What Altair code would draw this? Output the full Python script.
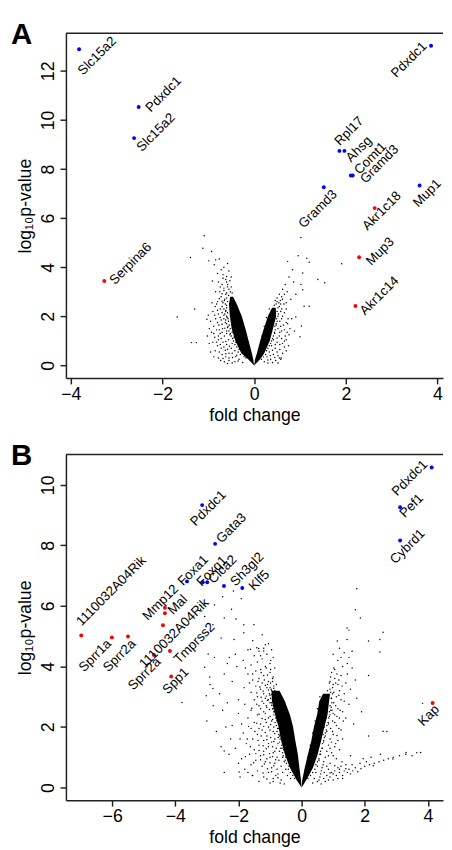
import altair as alt
import pandas as pd

FONT = "Liberation Sans"

# ---------------- Panel A data ----------------
A_genes = ["Slc15a2", "Pdxdc1", "Slc15a2", "Pdxdc1", "Rpl17", "Ahsg", "Comt1", "Gramd3",
           "Gramd3", "Mup1", "Akr1c18", "Serpina6", "Mup3", "Akr1c14"]
A_fc = [-3.82, -2.52, -2.62, 3.86, 1.86, 1.97, 2.11, 2.15, 1.52, 3.61, 2.63, -3.27, 2.29, 2.21]
A_lp = [12.88, 10.53, 9.26, 13.02, 8.74, 8.74, 7.74, 7.74, 7.26, 7.33, 6.41, 3.44, 4.41, 2.42]
A_dir = ["blue"] * 10 + ["red"] * 4

# dense core of the volcano (envelope of the solid black region)
A_core_left_lp = [0.0, 0.25, 0.5, 1.0, 1.5, 2.0, 2.5, 2.8]
A_core_left_out = [0.0, -0.13, -0.28, -0.41, -0.49, -0.53, -0.55, -0.52]
A_core_left_in = [0.0, -0.02, -0.05, -0.12, -0.19, -0.27, -0.38, -0.46]
A_core_right_lp = [0.0, 0.25, 0.5, 1.0, 1.5, 2.0, 2.35]
A_core_right_in = [0.0, 0.02, 0.06, 0.13, 0.21, 0.30, 0.39]
A_core_right_out = [0.0, 0.13, 0.22, 0.34, 0.41, 0.48, 0.47]

A_left_spread = [(-0.62, 3.5), (-0.70, 3.3), (-0.58, 3.2), (-0.66, 3.05), (-0.75, 3.0), (-0.60, 2.95),
                 (-0.72, 2.8), (-0.64, 2.7), (-0.80, 2.6), (-0.68, 2.55), (-0.60, 2.45), (-0.85, 2.4),
                 (-0.74, 2.3), (-0.62, 2.25), (-0.90, 2.2), (-0.78, 2.1), (-0.66, 2.05), (-0.59, 1.95),
                 (-0.84, 1.9), (-0.72, 1.85), (-0.95, 1.8), (-0.63, 1.75), (-0.77, 1.65), (-0.88, 1.6),
                 (-0.57, 1.6), (-0.69, 1.5), (-0.82, 1.45), (-0.60, 1.4), (-0.93, 1.35), (-0.74, 1.3),
                 (-0.53, 1.25), (-0.65, 1.2), (-0.86, 1.15), (-0.78, 1.05), (-0.56, 1.05), (-0.68, 0.95),
                 (-0.90, 0.95), (-0.48, 0.9), (-0.60, 0.85), (-0.80, 0.8), (-0.72, 0.7), (-0.50, 0.7),
                 (-0.63, 0.62), (-0.42, 0.6), (-0.85, 0.6), (-0.55, 0.5), (-0.70, 0.45), (-0.38, 0.42),
                 (-0.62, 0.35), (-0.47, 0.32), (-0.78, 0.3), (-0.33, 0.25), (-0.55, 0.2), (-0.42, 0.15),
                 (-0.25, 0.12), (-0.65, 0.15), (-0.50, 3.6), (-0.55, 3.85), (-0.68, 3.7), (-0.60, 3.4),
                 (-0.52, 3.0), (-0.78, 3.4), (-0.84, 3.0), (-0.92, 2.55), (-1.0, 2.05), (-0.98, 1.5),
                 (-1.02, 1.2), (-0.95, 0.55), (-0.88, 0.35), (-0.73, 0.2), (-0.98, 0.9), (-0.66, 4.0),
                 (-0.58, 4.15), (-0.72, 3.9), (-0.80, 3.75), (-0.45, 2.4), (-0.50, 2.1), (-0.45, 1.8),
                 (-0.68, 3.55), (-0.6, 3.62), (-0.74, 3.2), (-0.66, 3.15), (-0.7, 2.92), (-0.76, 2.72),
                 (-0.7, 2.62), (-0.82, 2.5), (-0.7, 2.4), (-0.8, 2.25), (-0.7, 2.15), (-0.86, 2.05),
                 (-0.74, 1.95), (-0.66, 1.9), (-0.8, 1.75), (-0.7, 1.68), (-0.64, 1.52), (-0.76, 1.45),
                 (-0.88, 1.3), (-0.7, 1.35), (-0.6, 1.3), (-0.78, 1.2), (-0.72, 1.1), (-0.62, 0.98),
                 (-0.82, 0.95), (-0.74, 0.85), (-0.54, 0.78), (-0.66, 0.75), (-0.58, 0.66), (-0.76, 0.55),
                 (-0.48, 0.5), (-0.62, 0.48), (-0.4, 0.36), (-0.55, 0.3), (-0.68, 0.28), (-0.35, 0.18),
                 (-0.48, 0.1), (-0.58, 0.08)]
A_left_edge = [(-0.18, 0.3), (-0.22, 0.35), (-0.3, 0.45), (-0.35, 0.55), (-0.33, 0.65), (-0.38, 0.75),
               (-0.42, 0.85), (-0.4, 0.95), (-0.45, 1.0), (-0.47, 1.1), (-0.44, 1.15), (-0.5, 1.2),
               (-0.52, 1.3), (-0.48, 1.35), (-0.55, 1.4), (-0.52, 1.5), (-0.58, 1.55), (-0.54, 1.65),
               (-0.6, 1.7), (-0.56, 1.8), (-0.62, 1.85), (-0.57, 1.9), (-0.6, 2.0), (-0.64, 2.1),
               (-0.58, 2.15), (-0.62, 2.2), (-0.66, 2.3), (-0.6, 2.35), (-0.63, 2.5), (-0.58, 2.6),
               (-0.65, 2.65), (-0.6, 2.75), (-0.56, 2.85), (-0.62, 2.9), (-0.55, 3.1), (-0.58, 3.3),
               (-0.5, 3.2), (-0.48, 2.95), (-0.53, 3.45), (-0.1, 0.45), (-0.15, 0.75), (-0.2, 1.05),
               (-0.26, 1.4), (-0.3, 1.7), (-0.35, 2.05), (-0.4, 2.35)]
A_right_spread = [(0.50, 2.6), (0.55, 2.4), (0.58, 2.2), (0.52, 2.0), (0.62, 2.0), (0.56, 1.8), (0.48, 1.7),
                  (0.64, 1.65), (0.52, 1.5), (0.60, 1.4), (0.45, 1.3), (0.55, 1.2), (0.68, 1.2), (0.42, 1.05),
                  (0.50, 0.95), (0.62, 0.9), (0.38, 0.8), (0.46, 0.7), (0.56, 0.65), (0.33, 0.55),
                  (0.42, 0.45), (0.52, 0.4), (0.28, 0.35), (0.36, 0.25), (0.47, 0.2), (0.22, 0.15),
                  (0.58, 0.25), (0.30, 0.1), (0.60, 2.8), (0.55, 2.9), (0.62, 3.1), (0.68, 3.3), (0.72, 3.0),
                  (0.65, 2.5), (0.70, 2.3), (0.74, 1.9), (0.78, 1.5), (0.66, 1.0), (0.75, 0.8), (0.80, 2.7),
                  (0.86, 3.4), (0.76, 3.6),
                  (0.58, 2.5), (0.62, 2.7), (0.66, 2.9), (0.6, 2.3), (0.66, 2.15), (0.6, 1.9), (0.7, 1.75),
                  (0.58, 1.6), (0.66, 1.45), (0.56, 1.35), (0.72, 1.35), (0.6, 1.1), (0.5, 1.12), (0.7, 1.05),
                  (0.56, 0.85), (0.46, 0.85), (0.66, 0.75), (0.4, 0.62), (0.5, 0.55), (0.62, 0.5), (0.35, 0.4),
                  (0.45, 0.32), (0.55, 0.3), (0.3, 0.22), (0.4, 0.12), (0.52, 0.1), (0.7, 0.6), (0.76, 1.25),
                  (0.82, 1.9), (0.7, 2.55)]
A_right_edge = [(0.16, 0.25), (0.2, 0.35), (0.25, 0.45), (0.27, 0.6), (0.3, 0.7), (0.33, 0.8), (0.36, 0.9),
                (0.38, 1.0), (0.4, 1.1), (0.42, 1.2), (0.44, 1.35), (0.46, 1.45), (0.45, 1.6), (0.48, 1.65),
                (0.5, 1.8), (0.49, 1.9), (0.53, 2.1), (0.5, 2.2), (0.52, 2.35), (0.48, 2.5), (0.54, 2.55),
                (0.5, 2.75), (0.46, 2.65), (0.57, 2.65), (0.44, 2.45), (0.08, 0.45), (0.12, 0.8),
                (0.17, 1.2), (0.22, 1.6), (0.27, 1.95), (0.33, 2.3)]
A_outliers = [(-1.09, 5.28), (-1.12, 4.77), (-1.39, 4.4), (-0.93, 4.64), (-0.99, 4.26), (-0.84, 4.3),
              (-0.76, 4.34), (-0.87, 4.1), (-0.91, 3.44), (-1.3, 2.3), (-1.68, 1.97), (-1.37, 0.93),
              (-1.26, 0.93), (-1.03, 1.88), (1.02, 5.21), (0.96, 4.47), (1.15, 4.37), (1.2, 4.2),
              (1.91, 4.14), (0.73, 4.24), (0.84, 3.9), (1.39, 3.5), (1.54, 3.37), (1.06, 3.77),
              (1.02, 3.3), (0.91, 2.9), (1.06, 3.08), (1.09, 2.41), (1.2, 2.41), (0.91, 1.97),
              (1.03, 1.61), (1.0, 1.17), (0.73, 1.7), (0.59, 0.3), (0.88, 1.4)]

# ---------------- Panel B data ----------------
B_genes = ["Pdxdc1", "Gata3", "Foxa1", "Foxq1", "Clca2", "Sh3gl2", "Klf5", "Pdxdc1", "Pef1", "Cybrd1",
           "1110032A04Rik", "Sprr1a", "Sprr2a", "Mmp12", "Mal", "1110032A04Rik", "Sprr2a", "Tmprss2",
           "Spp1", "Kap"]
B_fc = [-3.15, -2.74, -3.63, -3.13, -2.99, -2.46, -1.88, 4.12, 3.12, 3.12,
        -6.98, -6.01, -5.50, -4.33, -4.33, -4.39, -4.68, -4.17, -4.13, 4.15]
B_lp = [9.33, 8.05, 6.81, 6.78, 6.78, 6.66, 6.59, 10.57, 9.26, 8.16,
        5.02, 4.96, 4.99, 5.94, 5.76, 5.36, 4.38, 4.51, 3.67, 2.79]
B_dir = ["blue"] * 10 + ["red"] * 10

B_core_left_lp = [0.0, 0.25, 0.65, 1.1, 1.55, 2.0, 2.4, 2.85, 3.2]
B_core_left_out = [0.0, -0.16, -0.37, -0.53, -0.65, -0.73, -0.84, -0.94, -0.95]
B_core_left_in = [0.0, -0.02, -0.07, -0.12, -0.20, -0.27, -0.37, -0.53, -0.70]
B_core_right_lp = [0.0, 0.25, 0.65, 1.1, 1.55, 2.0, 2.4, 2.85, 3.1]
B_core_right_in = [0.0, 0.02, 0.10, 0.20, 0.31, 0.39, 0.49, 0.56, 0.68]
B_core_right_out = [0.0, 0.15, 0.36, 0.51, 0.62, 0.72, 0.82, 0.87, 0.90]

B_left_spread = [(-1.05, 4.75), (-1.2, 4.6), (-0.95, 4.55), (-1.35, 4.5), (-1.1, 4.4), (-1.5, 4.35), (-0.9, 4.3),
                 (-1.25, 4.25), (-1.4, 4.15), (-1.0, 4.1), (-1.6, 4.05), (-1.15, 4.0), (-0.85, 3.95),
                 (-1.3, 3.9), (-1.45, 3.85), (-1.0, 3.8), (-1.7, 3.75), (-1.2, 3.7), (-0.9, 3.65),
                 (-1.35, 3.6), (-1.55, 3.55), (-1.05, 3.5), (-1.25, 3.45), (-0.8, 3.4), (-1.45, 3.35),
                 (-1.1, 3.3), (-1.3, 3.25), (-0.95, 3.2), (-1.6, 3.15), (-1.2, 3.1), (-1.0, 3.05),
                 (-1.4, 3.0), (-0.85, 3.0), (-1.15, 2.95), (-1.5, 2.9), (-1.25, 2.85), (-1.0, 2.8),
                 (-1.8, 2.75), (-1.35, 2.7), (-1.1, 2.65), (-0.9, 2.6), (-1.6, 2.55), (-1.2, 2.5),
                 (-2.0, 2.45), (-1.4, 2.4), (-1.0, 2.35), (-1.7, 2.3), (-1.15, 2.25), (-0.95, 2.2),
                 (-1.5, 2.15), (-1.3, 2.1), (-2.2, 2.05), (-1.05, 2.0), (-1.6, 1.95), (-1.25, 1.9),
                 (-0.9, 1.85), (-1.85, 1.8), (-1.4, 1.75), (-1.1, 1.7), (-1.55, 1.6), (-1.2, 1.55),
                 (-0.95, 1.5), (-1.75, 1.45), (-1.35, 1.4), (-1.05, 1.35), (-2.1, 1.3), (-1.5, 1.25),
                 (-1.2, 1.2), (-0.9, 1.15), (-1.65, 1.1), (-1.3, 1.05), (-1.0, 1.0), (-1.9, 0.95),
                 (-1.45, 0.9), (-1.15, 0.85), (-0.85, 0.8), (-1.6, 0.75), (-1.25, 0.7), (-0.95, 0.65),
                 (-1.8, 0.6), (-1.4, 0.55), (-1.05, 0.5), (-0.75, 0.45), (-1.55, 0.4), (-1.2, 0.35),
                 (-0.9, 0.3), (-0.65, 0.25), (-1.35, 0.2), (-1.0, 0.15), (-0.55, 0.12),
                 (-0.8, 2.95), (-0.75, 2.7), (-0.82, 2.45), (-0.78, 2.2), (-0.72, 1.95), (-0.7, 1.7),
                 (-0.75, 1.45), (-0.62, 1.3), (-0.7, 1.2), (-0.6, 1.0), (-0.55, 0.85), (-0.65, 0.7),
                 (-0.5, 0.6), (-0.45, 0.4), (-0.35, 0.3), (-0.88, 2.0), (-0.85, 1.6), (-0.8, 1.3),
                 (-0.78, 1.0), (-0.72, 0.9), (-0.6, 0.5), (-1.0, 3.3), (-0.9, 3.1), (-1.05, 2.9),
                 (-2.9, 3.4), (-2.6, 3.1), (-2.8, 2.7), (-2.5, 2.55), (-2.35, 2.8), (-3.0, 2.2),
                 (-2.4, 2.0), (-2.7, 1.85), (-2.25, 1.6), (-2.55, 1.35), (-2.3, 1.1), (-2.0, 0.8),
                 (-2.45, 0.5), (-1.95, 0.35), (-2.2, 3.5), (-2.45, 3.75), (-2.05, 4.0), (-1.85, 4.2),
                 (-1.7, 4.55), (-2.1, 4.4), (-2.35, 4.1),
                 (-1.12, 3.95), (-0.98, 3.9), (-1.28, 3.8), (-1.08, 3.72), (-0.92, 3.6), (-1.18, 3.55),
                 (-1.38, 3.5), (-0.98, 3.45), (-1.15, 3.38), (-1.32, 3.32), (-0.88, 3.28), (-1.05, 3.22),
                 (-1.22, 3.18), (-1.42, 3.12), (-0.95, 3.08), (-1.12, 3.02), (-1.28, 2.98), (-0.92, 2.92),
                 (-1.08, 2.88), (-1.2, 2.78), (-1.42, 2.75), (-0.95, 2.72), (-1.12, 2.7), (-1.3, 2.6),
                 (-1.02, 2.58), (-0.88, 2.5), (-1.15, 2.45), (-1.35, 2.42), (-1.05, 2.3), (-1.25, 2.28),
                 (-0.92, 2.25), (-1.12, 2.15), (-1.42, 2.12), (-0.98, 2.08), (-1.2, 2.02), (-1.35, 1.95),
                 (-1.0, 1.9), (-1.15, 1.82), (-0.85, 1.78), (-1.28, 1.7), (-0.98, 1.65), (-1.1, 1.58),
                 (-1.38, 1.55), (-0.88, 1.52), (-1.05, 1.45), (-1.22, 1.38), (-0.92, 1.35), (-1.12, 1.28),
                 (-1.35, 1.22), (-0.85, 1.2), (-1.02, 1.12), (-1.2, 1.08), (-0.92, 1.02), (-1.1, 0.95),
                 (-1.3, 0.92), (-0.82, 0.92), (-1.0, 0.82), (-1.18, 0.78), (-0.88, 0.72), (-1.08, 0.62),
                 (-0.78, 0.6), (-0.95, 0.52), (-1.22, 0.48), (-0.82, 0.4), (-1.1, 0.28), (-0.75, 0.32),
                 (-0.9, 0.2), (-0.68, 0.15), (-1.58, 2.62), (-1.68, 2.02), (-1.48, 1.85), (-1.72, 1.6),
                 (-1.62, 1.35), (-1.45, 1.12), (-1.78, 1.02), (-1.52, 0.82), (-1.7, 0.5), (-1.9, 2.1),
                 (-1.95, 1.6), (-2.0, 2.9), (-1.82, 3.3), (-1.65, 3.45), (-1.55, 3.75), (-1.78, 3.95),
                 (-1.3, 4.35), (-0.98, 4.2), (-1.42, 4.62), (-1.15, 4.72), (-1.55, 4.85)]
B_left_edge = [(-0.22, 0.3), (-0.28, 0.4), (-0.35, 0.5), (-0.42, 0.6), (-0.4, 0.7), (-0.48, 0.8), (-0.52, 0.9),
               (-0.5, 1.0), (-0.58, 1.05), (-0.6, 1.15), (-0.57, 1.25), (-0.66, 1.3), (-0.63, 1.4), (-0.7, 1.5),
               (-0.68, 1.6), (-0.74, 1.65), (-0.72, 1.75), (-0.78, 1.85), (-0.76, 1.95), (-0.8, 2.05),
               (-0.84, 2.15), (-0.82, 2.3), (-0.88, 2.4), (-0.86, 2.5), (-0.92, 2.6), (-0.9, 2.7),
               (-0.96, 2.8), (-0.98, 2.95), (-0.92, 3.05), (-1.02, 3.1), (-0.96, 3.25), (-0.88, 3.35),
               (-0.92, 3.5), (-0.85, 3.2), (-1.08, 3.4), (-0.78, 3.15), (-0.12, 0.6), (-0.18, 1.0),
               (-0.25, 1.4), (-0.31, 1.8), (-0.4, 2.2), (-0.5, 2.6), (-0.62, 2.95)]
B_right_spread = [(0.95, 3.8), (1.05, 3.6), (0.9, 3.5), (1.15, 3.4), (0.98, 3.3), (1.2, 3.2), (0.92, 3.15),
                  (1.1, 3.0), (0.95, 2.95), (1.25, 2.9), (1.02, 2.8), (0.9, 2.7), (1.15, 2.6), (0.96, 2.55),
                  (1.3, 2.5), (1.05, 2.4), (0.88, 2.35), (1.2, 2.3), (0.98, 2.2), (0.85, 2.1), (1.1, 2.05),
                  (0.92, 1.95), (1.25, 1.9), (0.8, 1.85), (1.0, 1.75), (0.75, 1.7), (0.9, 1.6), (1.15, 1.55),
                  (0.7, 1.5), (0.85, 1.4), (1.05, 1.35), (0.65, 1.3), (0.8, 1.2), (0.95, 1.15), (0.6, 1.1),
                  (0.75, 1.0), (1.1, 0.95), (0.55, 0.9), (0.7, 0.85), (0.9, 0.8), (0.5, 0.7), (0.65, 0.65),
                  (0.85, 0.6), (1.2, 0.6), (0.45, 0.5), (0.6, 0.45), (0.8, 0.4), (1.0, 0.45), (0.4, 0.3),
                  (0.55, 0.25), (0.75, 0.2), (0.35, 0.15), (1.35, 0.55), (1.5, 0.6), (1.3, 0.4), (1.6, 0.75),
                  (0.85, 3.0), (0.88, 2.5), (0.78, 2.3), (0.72, 2.0), (0.68, 1.75),
                  (1.2, 4.6), (1.35, 4.45), (1.0, 4.4), (1.5, 4.3), (1.15, 4.2), (1.3, 4.0), (1.6, 3.95),
                  (1.05, 3.9), (1.45, 3.75), (1.25, 3.7), (1.7, 3.55), (1.4, 3.45), (1.55, 3.25),
                  (1.35, 3.1), (1.75, 2.95), (1.5, 2.75), (1.9, 2.5), (1.4, 2.3), (1.65, 2.1),
                  (1.7, 0.65), (1.85, 0.8), (2.0, 0.7), (2.15, 0.75), (2.3, 0.8), (2.45, 0.85), (2.6, 0.9),
                  (2.75, 0.95), (2.9, 1.0), (3.1, 1.05), (3.3, 1.1), (3.5, 1.05), (3.65, 1.15), (1.95, 0.95),
                  (2.2, 1.0), (2.5, 1.1), (0.95, 0.5), (1.05, 0.55), (1.15, 0.65), (1.25, 0.7), (1.4, 0.75),
                  (1.1, 0.4), (1.2, 0.5), (0.9, 0.35), (1.45, 0.5), (1.55, 0.45), (1.0, 0.25), (1.3, 0.3),
                  (1.02, 3.95), (1.12, 3.75), (0.92, 3.65), (1.18, 3.55), (1.08, 3.45), (1.28, 3.35),
                  (1.02, 3.15), (1.18, 3.05), (1.35, 2.85), (1.08, 2.7), (1.22, 2.55), (1.0, 2.45),
                  (1.12, 2.35), (1.32, 2.2), (1.05, 2.15), (1.18, 1.95), (0.98, 1.85), (1.12, 1.72),
                  (1.3, 1.6), (0.95, 1.5), (1.08, 1.45), (0.9, 1.3), (1.2, 1.25), (0.85, 1.05), (1.0, 1.05),
                  (0.68, 0.75), (0.8, 0.7), (1.05, 0.72), (0.62, 0.55), (0.72, 0.5), (0.9, 0.48), (0.58, 0.35),
                  (0.7, 0.3), (0.85, 0.25), (0.5, 0.2), (0.62, 0.12), (1.15, 0.3), (1.4, 0.62), (1.28, 0.85),
                  (1.62, 0.55), (1.78, 0.52), (1.88, 0.62), (2.05, 0.85), (1.45, 4.1), (1.25, 4.3), (1.6, 4.5)]
B_right_edge = [(0.2, 0.3), (0.28, 0.4), (0.35, 0.5), (0.42, 0.6), (0.45, 0.75), (0.5, 0.85), (0.55, 0.95),
                (0.58, 1.1), (0.6, 1.2), (0.65, 1.3), (0.66, 1.45), (0.7, 1.55), (0.72, 1.65), (0.75, 1.8),
                (0.78, 1.9), (0.8, 2.05), (0.84, 2.15), (0.86, 2.3), (0.9, 2.4), (0.92, 2.55), (0.94, 2.65),
                (0.96, 2.8), (0.94, 2.95), (0.98, 3.1), (0.9, 3.25), (1.0, 3.4), (0.88, 3.45), (0.82, 3.2),
                (0.78, 3.0), (0.12, 0.6), (0.2, 1.0), (0.27, 1.4), (0.35, 1.8), (0.43, 2.2), (0.5, 2.6),
                (0.58, 3.0)]
B_outliers = [(-2.55, 4.94), (-2.14, 4.89), (-1.83, 5.11), (-1.62, 4.57), (-1.36, 4.59), (-1.2, 4.51),
              (-2.96, 4.41), (-2.76, 4.3), (-2.29, 4.3), (-3.07, 3.97), (-2.91, 3.65), (-2.81, 3.27),
              (-3.02, 3.03), (-3.79, 2.81), (-2.45, 1.21), (-1.98, 0.51), (-1.56, 0.4), (-2.16, 6.49),
              (-1.91, 6.24), (-2.5, 6.3), (-2.76, 6.03), (-2.22, 5.89), (-3.2, 5.89), (-3.07, 5.65),
              (-2.45, 5.6), (-2.08, 5.57), (-1.83, 5.38), (-1.51, 5.38), (-1.25, 5.05), (-2.81, 5.38),
              (1.13, 4.84), (1.44, 4.89), (2.12, 4.84), (2.48, 4.89), (2.48, 4.48), (2.12, 3.7),
              (3.83, 2.78), (2.58, 1.86), (2.7, 1.85), (2.12, 1.7), (1.55, 1.05), (1.75, 6.57),
              (1.7, 5.87), (1.86, 5.6), (1.44, 5.27), (1.5, 5.2), (2.58, 5.13), (3.31, 1.16),
              (3.77, 1.16), (2.89, 0.94), (2.27, 0.72)]

# ---------------- styling (label offsets in px, rotated frame) ----------------
A_label_off = [(8.1, 17.9), (26.9, 8.9), (19.8, 11.7), (-25.9, -5.7), (21.2, -7.1), (11.6, 9.2),
               (26.4, 1.8), (27.4, 11.3), (-20.0, 11.5), (-0.2, 11.1), (3.0, 7.3), (31.5, 6.6),
               (19.3, 11.2), (24.6, 9.9)]
B_label_off = [(2.1, 6.8), (23.1, 0.5), (12.3, -3.3), (14.6, -1.3), (20.3, 1.9), (28.6, 4.9),
               (17.7, 6.8), (-23.3, -8.2), (9.3, 7.3), (1.0, 9.9), (53.7, -10.4), (-25.2, 1.2),
               (-20.0, 7.8), (0.6, -6.9), (15.1, 3.3), (2.3, 14.0), (-20.3, 7.0), (23.3, 12.0),
               (0.0, 6.6), (-11.8, 6.2)]

COLORS = {"blue": "#0000ff", "red": "#ff0000"}
W = 384
AXC = "#222222"


def make_panel(letter, genes, fc, lp, dirs, offs, core_l, core_r, clouds,
               xdom, ydom, xticks, yticks, height):
    xs = alt.Scale(domain=xdom, nice=False, zero=False)
    ys = alt.Scale(domain=ydom, nice=False, zero=False)
    xax = alt.Axis(values=xticks, title="fold change", grid=False, tickSize=6,
                   labelPadding=2, titlePadding=3, format="d")
    yax = alt.Axis(values=yticks, title="log\u2081\u2080p-value", grid=False, tickSize=6,
                   labelAngle=270, labelPadding=3, titlePadding=5, format="d")
    X = lambda: alt.X("fc:Q", scale=xs, axis=xax)
    Y = lambda: alt.Y("lp:Q", scale=ys, axis=yax)

    layers = []
    for (ly, lo, li) in [core_l, core_r]:
        d = pd.DataFrame({"lp": ly, "fc": lo, "fc2": li})
        layers.append(alt.Chart(d).mark_area(color="black", opacity=1, orient="horizontal").encode(
            y=Y(), x=X(), x2=alt.X2("fc2:Q")))
    pts = [p for c in clouds for p in c]
    dc = pd.DataFrame({"fc": [p[0] for p in pts], "lp": [p[1] for p in pts]})
    layers.append(alt.Chart(dc).mark_circle(size=2.2, color="black", opacity=1).encode(x=X(), y=Y()))

    dg = pd.DataFrame({"gene": genes, "fc": fc, "lp": lp, "dir": dirs})
    layers.append(alt.Chart(dg).mark_circle(size=16, opacity=1).encode(
        x=X(), y=Y(),
        color=alt.Color("dir:N", scale=alt.Scale(domain=list(COLORS), range=list(COLORS.values())),
                        legend=None)))
    for i, (dx, dy) in enumerate(offs):
        layers.append(alt.Chart(dg.iloc[[i]]).mark_text(
            angle=315, align="center", baseline="middle", dx=dx, dy=dy,
            fontSize=13.5, font=FONT, color="black").encode(x=X(), y=Y(), text="gene:N"))

    one = pd.DataFrame({"k": [letter]})
    layers.append(alt.Chart(one).mark_rule(color=AXC, strokeWidth=1.5).encode(y=alt.value(0)))
    layers.append(alt.Chart(one).mark_text(
        align="left", baseline="alphabetic", fontSize=30, fontWeight="bold", font=FONT,
        color="black").encode(x=alt.value(-56), y=alt.value(10.5), text="k:N"))
    return alt.layer(*layers).properties(width=W, height=height)


A = make_panel("A", A_genes, A_fc, A_lp, A_dir, A_label_off,
               (A_core_left_lp, A_core_left_out, A_core_left_in),
               (A_core_right_lp, A_core_right_out, A_core_right_in),
               [A_left_spread, A_left_edge, A_right_spread, A_right_edge, A_outliers],
               [-4.107, 4.121], [-0.51, 13.53], [-4, -2, 0, 2, 4], [0, 2, 4, 6, 8, 10, 12], 351)
B = make_panel("B", B_genes, B_fc, B_lp, B_dir, B_label_off,
               (B_core_left_lp, B_core_left_out, B_core_left_in),
               (B_core_right_lp, B_core_right_out, B_core_right_in),
               [B_left_spread, B_left_edge, B_right_spread, B_right_edge, B_outliers],
               [-7.465, 4.479], [-0.42, 11.0], [-6, -4, -2, 0, 2, 4], [0, 2, 4, 6, 8, 10], 352)

chart = alt.vconcat(A, B, spacing=17).properties(
    padding={"left": 3, "top": 4, "right": 0, "bottom": 0}
).configure_view(stroke=None).configure_axis(
    labelFont=FONT, titleFont=FONT, labelFontSize=18, titleFontSize=18,
    labelColor="black", titleColor="black", titleFontWeight="normal",
    domainColor=AXC, tickColor=AXC, domainWidth=1.5, tickWidth=1.5
)

chart.save("out.html", embed_options={"renderer": "svg", "actions": False})
